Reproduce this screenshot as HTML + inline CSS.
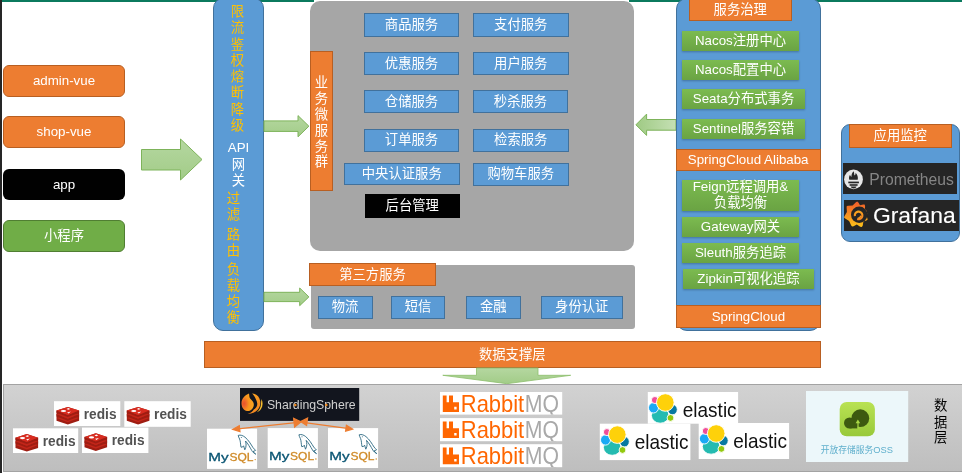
<!DOCTYPE html>
<html lang="zh-CN">
<head>
<meta charset="utf-8">
<title>架构图</title>
<style>
html,body{margin:0;padding:0;}
body{width:962px;height:473px;position:relative;overflow:hidden;background:#fff;
 font-family:"Liberation Sans","Noto Sans CJK SC",sans-serif;font-size:13.33px;line-height:16px;color:#fff;}
.a{position:absolute;box-sizing:border-box;}
.c{display:flex;align-items:center;justify-content:center;text-align:center;white-space:nowrap;}
.or{background:#ed7d31;border:1px solid #b85f22;}
.bl{background:#5b9bd5;border:1px solid #41719c;}
.gr{background:linear-gradient(#7cbb50,#6aa343);box-shadow:0 1px 2px rgba(0,0,0,.25);}
</style>
</head>
<body>
<div id="stage" style="position:absolute;left:0;top:0;width:962px;height:473px;overflow:hidden;will-change:transform;opacity:0.999;">
<!-- frame edges -->
<div class="a" style="left:0;top:0;width:2px;height:473px;background:#262626;"></div>
<div class="a" style="left:2px;top:0;width:960px;height:2px;background:#0b7a5e;"></div>
<div class="a" style="left:314px;top:0;width:315px;height:2px;background:#fff;"></div>

<!-- clients -->
<div class="a c or" style="left:3px;top:65px;width:122px;height:32px;border-radius:6px;">admin-vue</div>
<div class="a c or" style="left:3px;top:116px;width:122px;height:32px;border-radius:6px;">shop-vue</div>
<div class="a c" style="left:3px;top:169px;width:122px;height:31px;border-radius:6px;background:#000;">app</div>
<div class="a c" style="left:3px;top:220px;width:122px;height:32px;border-radius:6px;background:#70ad47;border:1px solid #507e32;">小程序</div>

<!-- big arrow -->
<svg class="a" style="left:138px;top:135px;" width="70" height="50" viewBox="138 135 70 50">
 <defs><linearGradient id="ga" x1="0" y1="0" x2="0" y2="1"><stop offset="0" stop-color="#b5d7a0"/><stop offset="1" stop-color="#a2cc88"/></linearGradient></defs>
 <path d="M141.5 149.5H180.5V139L202 159.5L180.5 180V170H141.5Z" fill="url(#ga)" stroke="#7db35a" stroke-width="1"/>
</svg>

<!-- API gateway -->
<div class="a bl" style="left:213px;top:-2px;width:51px;height:333px;border-radius:10px;"></div>

<!-- gray service cluster -->
<div class="a" style="left:310px;top:1px;width:324px;height:250px;border-radius:10px;background:#a6a6a6;"></div>
<div class="a" style="left:311px;top:265px;width:324px;height:64px;border-radius:3px;background:#a6a6a6;"></div>

<!-- gateway labels -->
<div class="a c" style="left:227.3px;top:4.10px;width:20px;height:16px;color:#ffc000;">限</div>
<div class="a c" style="left:227.3px;top:20.35px;width:20px;height:16px;color:#ffc000;">流</div>
<div class="a c" style="left:227.3px;top:36.60px;width:20px;height:16px;color:#ffc000;">鉴</div>
<div class="a c" style="left:227.3px;top:52.85px;width:20px;height:16px;color:#ffc000;">权</div>
<div class="a c" style="left:227.3px;top:69.10px;width:20px;height:16px;color:#ffc000;">熔</div>
<div class="a c" style="left:227.3px;top:85.35px;width:20px;height:16px;color:#ffc000;">断</div>
<div class="a c" style="left:227.3px;top:101.60px;width:20px;height:16px;color:#ffc000;">降</div>
<div class="a c" style="left:227.3px;top:117.85px;width:20px;height:16px;color:#ffc000;">级</div>
<div class="a c" style="left:223.5px;top:140.0px;width:30px;height:16px;color:#fff;">API</div>
<div class="a c" style="left:223.5px;top:156.7px;width:30px;height:16px;color:#fff;">网</div>
<div class="a c" style="left:223.5px;top:172.7px;width:30px;height:16px;color:#fff;">关</div>
<div class="a c" style="left:223.5px;top:190.8px;width:20px;height:16px;color:#ffc000;">过</div>
<div class="a c" style="left:223.5px;top:206.8px;width:20px;height:16px;color:#ffc000;">滤</div>
<div class="a c" style="left:223.5px;top:226.8px;width:20px;height:16px;color:#ffc000;">路</div>
<div class="a c" style="left:223.5px;top:242.8px;width:20px;height:16px;color:#ffc000;">由</div>
<div class="a c" style="left:223.5px;top:261.8px;width:20px;height:16px;color:#ffc000;">负</div>
<div class="a c" style="left:223.5px;top:277.8px;width:20px;height:16px;color:#ffc000;">载</div>
<div class="a c" style="left:223.5px;top:293.8px;width:20px;height:16px;color:#ffc000;">均</div>
<div class="a c" style="left:223.5px;top:309.8px;width:20px;height:16px;color:#ffc000;">衡</div>
<div class="a or" style="left:310px;top:51px;width:23px;height:140px;"></div>
<div class="a c" style="left:311.5px;top:74.7px;width:20px;height:16px;color:#fff;">业</div>
<div class="a c" style="left:311.5px;top:90.7px;width:20px;height:16px;color:#fff;">务</div>
<div class="a c" style="left:311.5px;top:106.7px;width:20px;height:16px;color:#fff;">微</div>
<div class="a c" style="left:311.5px;top:122.7px;width:20px;height:16px;color:#fff;">服</div>
<div class="a c" style="left:311.5px;top:138.7px;width:20px;height:16px;color:#fff;">务</div>
<div class="a c" style="left:311.5px;top:154.2px;width:20px;height:16px;color:#fff;">群</div>
<div class="a c bl" style="left:364px;top:13px;width:95px;height:23.5px;">商品服务</div>
<div class="a c bl" style="left:473px;top:13px;width:95.5px;height:23.5px;">支付服务</div>
<div class="a c bl" style="left:364px;top:52px;width:95px;height:23px;">优惠服务</div>
<div class="a c bl" style="left:473px;top:52px;width:95.5px;height:23px;">用户服务</div>
<div class="a c bl" style="left:364px;top:90px;width:95px;height:23px;">仓储服务</div>
<div class="a c bl" style="left:473px;top:90px;width:95px;height:23px;">秒杀服务</div>
<div class="a c bl" style="left:364px;top:128.5px;width:95px;height:23.5px;">订单服务</div>
<div class="a c bl" style="left:473px;top:128.5px;width:95.5px;height:23.5px;">检索服务</div>
<div class="a c bl" style="left:344px;top:162.5px;width:115.5px;height:22.5px;">中央认证服务</div>
<div class="a c bl" style="left:473px;top:162.5px;width:95.5px;height:23.5px;">购物车服务</div>
<div class="a c " style="left:364.5px;top:194px;width:95.5px;height:24px;background:#000;">后台管理</div>
<div class="a c or" style="left:309px;top:263px;width:127px;height:23px;">第三方服务</div>
<div class="a c bl" style="left:317.5px;top:295.5px;width:55px;height:23.5px;">物流</div>
<div class="a c bl" style="left:391px;top:295.5px;width:54px;height:23.5px;">短信</div>
<div class="a c bl" style="left:466px;top:295.5px;width:54.5px;height:23.5px;">金融</div>
<div class="a c bl" style="left:541px;top:295.5px;width:81.5px;height:23.5px;">身份认证</div>
<div class="a c or" style="left:204px;top:340.5px;width:616.5px;height:27.5px;padding-top:2px;">数据支撑层</div>
<!-- arrows -->
<svg class="a" style="left:0;top:0;pointer-events:none;" width="962" height="473" viewBox="0 0 962 473">
 <defs>
  <linearGradient id="gb" x1="0" y1="0" x2="0" y2="1"><stop offset="0" stop-color="#b5d7a0"/><stop offset="1" stop-color="#a2cc88"/></linearGradient>
  <linearGradient id="gc" x1="0" y1="0" x2="1" y2="0"><stop offset="0" stop-color="#9fca84"/><stop offset="1" stop-color="#c5e0b4"/></linearGradient>
 </defs>
 <path d="M264 120.9H298V115.6L308.9 126.2L298 136.8V131.4H264Z" fill="url(#gb)" stroke="#7db35a" stroke-width="1"/>
 <path d="M264 292.3H299.7V288L308.9 296.9L299.7 305.7V301.6H264Z" fill="url(#gb)" stroke="#7db35a" stroke-width="1"/>
 <path d="M676 119.5H646.6V114.1L635.9 124.8L646.6 135.4V130.2H676Z" fill="url(#gc)" stroke="#7db35a" stroke-width="1"/>
 <path d="M476.5 368H538V375.3H570.7L506.8 383.7L442.8 375.3H476.5Z" fill="url(#gb)" stroke="#8dbf6c" stroke-width="0.8"/>
</svg>
<!-- governance panel -->
<div class="a bl" style="left:676px;top:-2px;width:144.5px;height:333px;border-radius:11px;"></div>
<div class="a c or" style="left:689px;top:-2px;width:102.5px;height:23px;">服务治理</div>
<div class="a c gr" style="left:682px;top:30.8px;width:117px;height:20.5px;">Nacos注册中心</div>
<div class="a c gr" style="left:682px;top:60px;width:117px;height:20px;">Nacos配置中心</div>
<div class="a c gr" style="left:682px;top:89.3px;width:123px;height:20px;">Seata分布式事务</div>
<div class="a c gr" style="left:682px;top:118.8px;width:123px;height:20px;">Sentinel服务容错</div>
<div class="a c gr" style="left:682px;top:179.5px;width:117px;height:31.3px;line-height:16.4px;">Feign远程调用&amp;<br>负载均衡</div>
<div class="a c gr" style="left:682px;top:217px;width:117px;height:20px;">Gateway网关</div>
<div class="a c gr" style="left:682px;top:243.3px;width:117px;height:19.8px;">Sleuth服务追踪</div>
<div class="a c gr" style="left:683px;top:269.3px;width:130.8px;height:19.5px;">Zipkin可视化追踪</div>
<div class="a c or" style="left:675.5px;top:148.8px;width:145.3px;height:22px;">SpringCloud Alibaba</div>
<div class="a c or" style="left:675.5px;top:305px;width:145.8px;height:23px;">SpringCloud</div>
<!-- monitoring panel -->
<div class="a bl" style="left:841px;top:124px;width:119px;height:117.5px;border-radius:9px;"></div>
<div class="a c or" style="left:849px;top:124px;width:102.5px;height:23.5px;">应用监控</div>
<div class="a" style="left:843px;top:163px;width:114px;height:30.5px;background:#252525;"></div>
<div class="a" style="left:844px;top:200.3px;width:115px;height:30.3px;background:#252525;"></div>
<!-- data layer -->
<div class="a" style="left:3px;top:384px;width:962px;height:88px;background:linear-gradient(#d2d2d2,#bebebe);border:1px solid #a3a3a3;"></div>
<!-- data layer logos -->
<svg class="a" style="left:0;top:380px;" width="962" height="93" viewBox="0 380 962 93">
<defs><clipPath id="rc1"><rect x="440" y="392" width="122.2" height="22.6"/></clipPath><clipPath id="rc2"><rect x="440" y="418.1" width="122.2" height="23.1"/></clipPath><clipPath id="rc3"><rect x="440" y="444.2" width="122.2" height="23"/></clipPath><linearGradient id="oss" x1="0" y1="0" x2="0" y2="1"><stop offset="0" stop-color="#b9e253"/><stop offset="1" stop-color="#98c93a"/></linearGradient><radialGradient id="ssg" cx="0.2" cy="0.58" r="0.75"><stop offset="0" stop-color="#e8502d"/><stop offset="0.25" stop-color="#ee6a2a"/><stop offset="0.55" stop-color="#f7941e"/><stop offset="1" stop-color="#f9a322"/></radialGradient><linearGradient id="ssh" x1="0" y1="0" x2="0.6" y2="1"><stop offset="0" stop-color="#f9a825"/><stop offset="1" stop-color="#f6871f"/></linearGradient></defs>
<g>
 <rect x="54" y="401.2" width="66.3" height="24.8" fill="#fff"/>
 <g transform="translate(56.3,406.9)">
  <path d="M0.2 3.7L11.5 0L22.8 3.7V13.9L11.5 17.6L0.2 13.9Z" fill="#9f1d12"/>
  <path d="M0.2 11.1L11.5 15.4L22.8 11.1L11.5 7.4Z" fill="#c3261a"/>
  <path d="M0.2 7.2L11.5 11.8L22.8 7.2V9.6L11.5 13.8L0.2 9.6Z" fill="#9f1d12"/>
  <path d="M0.2 7.4L11.5 11.7L22.8 7.4L11.5 3.7Z" fill="#c3261a"/>
  <path d="M0.2 3.5L11.5 8.1L22.8 3.5V5.9L11.5 10.1L0.2 5.9Z" fill="#9f1d12"/>
  <path d="M0.2 3.7L11.5 0L22.8 3.7L11.5 8Z" fill="#d82c20"/>
  <ellipse cx="7.2" cy="4.1" rx="2.6" ry="1.1" fill="#fff"/>
  <path d="M10.2 2.2L12 1.2L13.9 2.1L12.1 2.9Z" fill="#fff"/>
  <path d="M10.8 5.5L14.6 4.6L12.3 6.6Z" fill="#fff"/>
 </g>
 <text x="83.8" y="418.9" font-family="Liberation Sans, sans-serif" font-weight="bold" font-size="14" fill="#525252" textLength="32.7" lengthAdjust="spacingAndGlyphs">redis</text>
</g>
<g>
 <rect x="124.3" y="401.2" width="66.4" height="25.6" fill="#fff"/>
 <g transform="translate(126.6,406.9)">
  <path d="M0.2 3.7L11.5 0L22.8 3.7V13.9L11.5 17.6L0.2 13.9Z" fill="#9f1d12"/>
  <path d="M0.2 11.1L11.5 15.4L22.8 11.1L11.5 7.4Z" fill="#c3261a"/>
  <path d="M0.2 7.2L11.5 11.8L22.8 7.2V9.6L11.5 13.8L0.2 9.6Z" fill="#9f1d12"/>
  <path d="M0.2 7.4L11.5 11.7L22.8 7.4L11.5 3.7Z" fill="#c3261a"/>
  <path d="M0.2 3.5L11.5 8.1L22.8 3.5V5.9L11.5 10.1L0.2 5.9Z" fill="#9f1d12"/>
  <path d="M0.2 3.7L11.5 0L22.8 3.7L11.5 8Z" fill="#d82c20"/>
  <ellipse cx="7.2" cy="4.1" rx="2.6" ry="1.1" fill="#fff"/>
  <path d="M10.2 2.2L12 1.2L13.9 2.1L12.1 2.9Z" fill="#fff"/>
  <path d="M10.8 5.5L14.6 4.6L12.3 6.6Z" fill="#fff"/>
 </g>
 <text x="154.1" y="418.9" font-family="Liberation Sans, sans-serif" font-weight="bold" font-size="14" fill="#525252" textLength="32.7" lengthAdjust="spacingAndGlyphs">redis</text>
</g>
<g>
 <rect x="13" y="428.3" width="65.2" height="24.7" fill="#fff"/>
 <g transform="translate(15.3,434.0)">
  <path d="M0.2 3.7L11.5 0L22.8 3.7V13.9L11.5 17.6L0.2 13.9Z" fill="#9f1d12"/>
  <path d="M0.2 11.1L11.5 15.4L22.8 11.1L11.5 7.4Z" fill="#c3261a"/>
  <path d="M0.2 7.2L11.5 11.8L22.8 7.2V9.6L11.5 13.8L0.2 9.6Z" fill="#9f1d12"/>
  <path d="M0.2 7.4L11.5 11.7L22.8 7.4L11.5 3.7Z" fill="#c3261a"/>
  <path d="M0.2 3.5L11.5 8.1L22.8 3.5V5.9L11.5 10.1L0.2 5.9Z" fill="#9f1d12"/>
  <path d="M0.2 3.7L11.5 0L22.8 3.7L11.5 8Z" fill="#d82c20"/>
  <ellipse cx="7.2" cy="4.1" rx="2.6" ry="1.1" fill="#fff"/>
  <path d="M10.2 2.2L12 1.2L13.9 2.1L12.1 2.9Z" fill="#fff"/>
  <path d="M10.8 5.5L14.6 4.6L12.3 6.6Z" fill="#fff"/>
 </g>
 <text x="42.8" y="446.0" font-family="Liberation Sans, sans-serif" font-weight="bold" font-size="14" fill="#525252" textLength="32.7" lengthAdjust="spacingAndGlyphs">redis</text>
</g>
<g>
 <rect x="82" y="427.6" width="66.4" height="25.4" fill="#fff"/>
 <g transform="translate(84.3,433.3)">
  <path d="M0.2 3.7L11.5 0L22.8 3.7V13.9L11.5 17.6L0.2 13.9Z" fill="#9f1d12"/>
  <path d="M0.2 11.1L11.5 15.4L22.8 11.1L11.5 7.4Z" fill="#c3261a"/>
  <path d="M0.2 7.2L11.5 11.8L22.8 7.2V9.6L11.5 13.8L0.2 9.6Z" fill="#9f1d12"/>
  <path d="M0.2 7.4L11.5 11.7L22.8 7.4L11.5 3.7Z" fill="#c3261a"/>
  <path d="M0.2 3.5L11.5 8.1L22.8 3.5V5.9L11.5 10.1L0.2 5.9Z" fill="#9f1d12"/>
  <path d="M0.2 3.7L11.5 0L22.8 3.7L11.5 8Z" fill="#d82c20"/>
  <ellipse cx="7.2" cy="4.1" rx="2.6" ry="1.1" fill="#fff"/>
  <path d="M10.2 2.2L12 1.2L13.9 2.1L12.1 2.9Z" fill="#fff"/>
  <path d="M10.8 5.5L14.6 4.6L12.3 6.6Z" fill="#fff"/>
 </g>
 <text x="111.8" y="445.3" font-family="Liberation Sans, sans-serif" font-weight="bold" font-size="14" fill="#525252" textLength="32.7" lengthAdjust="spacingAndGlyphs">redis</text>
</g>
<g>
 <rect x="240" y="388" width="119.2" height="32.9" fill="#12151e"/>
 <g>
  <path d="M249 393.4C245 395 241.5 398.5 241.5 403.2C241.5 407.5 244 410.5 247 411C251 411.5 254 408 253.8 404C253.6 401 250.5 399.5 249.7 397.7C249.2 396.3 249.3 394.6 249 393.4Z" fill="url(#ssg)"/>
  <path d="M251.7 393.4C256 393.5 259.5 396.5 260.2 401C261 406 258.5 410.5 254 412.5C252 413.4 249.5 413.9 247.4 413.8C250.5 413.2 252.6 411.6 253.8 409.5C256.5 408 257.6 405.5 257.2 403.2C256.8 400.5 255.5 398.5 254.8 397C254 395.5 253 394 251.7 393.4Z" fill="url(#ssh)"/>
  <path d="M261.5 398.9C263 402 263 406 261 409C259.8 410.8 258.4 411.8 256.8 412.2C259 410.5 260.6 408 260.9 404.8C261.1 402.8 261.2 400.7 261.5 398.9Z" fill="#fbc02d"/>
 </g>
 <text x="266.9" y="408.9" font-family="Liberation Sans, sans-serif" font-size="12.4" fill="#d0d0d0" textLength="88.8" lengthAdjust="spacingAndGlyphs">ShardingSphere</text>
 <circle cx="295.3" cy="405" r="1.3" fill="#f08a1f"/><circle cx="326.3" cy="405" r="1.3" fill="#f08a1f"/>
</g>
<g>
 <rect x="207" y="428.7" width="50.1" height="40.2" fill="#fff"/>
 <g transform="translate(0.0,0.0)">
  <path d="M238.2 435.4C240.5 434.6 243 435.6 245 437.2C248.5 440 251 444.5 253 447.6C253.8 448.8 255 449.6 255.6 450.4L253 451.6L255.8 454.2C254 453.4 252.6 452 251.8 450.6C250 447.6 248 443.5 245.5 441C246.2 443.5 246.6 446.5 244.8 449.8L243.6 445.8L242.6 447L241 447.2C240.4 444 240.6 441.5 239.6 439C239 437.6 238.3 436.6 238.2 435.4Z" fill="none" stroke="#2a6880" stroke-width="0.9" stroke-linejoin="round"/>
  <circle cx="241.3" cy="437.4" r="0.5" fill="#2a6880"/>
  <text x="208.3" y="460.5" font-family="Liberation Sans, sans-serif" font-size="11.2" fill="#0a5573" stroke="#0a5573" stroke-width="0.3" textLength="20.4" lengthAdjust="spacingAndGlyphs">My</text>
  <text x="229.4" y="460.5" font-family="Liberation Sans, sans-serif" font-size="11.2" fill="#cf8a27" stroke="#cf8a27" stroke-width="0.3" textLength="24" lengthAdjust="spacingAndGlyphs">SQL</text>
  <circle cx="255.2" cy="459.6" r="0.7" fill="#cf8a27"/>
 </g>
</g>
<g>
 <rect x="267.7" y="428.1" width="50.2" height="39.9" fill="#fff"/>
 <g transform="translate(60.7,-0.6)">
  <path d="M238.2 435.4C240.5 434.6 243 435.6 245 437.2C248.5 440 251 444.5 253 447.6C253.8 448.8 255 449.6 255.6 450.4L253 451.6L255.8 454.2C254 453.4 252.6 452 251.8 450.6C250 447.6 248 443.5 245.5 441C246.2 443.5 246.6 446.5 244.8 449.8L243.6 445.8L242.6 447L241 447.2C240.4 444 240.6 441.5 239.6 439C239 437.6 238.3 436.6 238.2 435.4Z" fill="none" stroke="#2a6880" stroke-width="0.9" stroke-linejoin="round"/>
  <circle cx="241.3" cy="437.4" r="0.5" fill="#2a6880"/>
  <text x="208.3" y="460.5" font-family="Liberation Sans, sans-serif" font-size="11.2" fill="#0a5573" stroke="#0a5573" stroke-width="0.3" textLength="20.4" lengthAdjust="spacingAndGlyphs">My</text>
  <text x="229.4" y="460.5" font-family="Liberation Sans, sans-serif" font-size="11.2" fill="#cf8a27" stroke="#cf8a27" stroke-width="0.3" textLength="24" lengthAdjust="spacingAndGlyphs">SQL</text>
  <circle cx="255.2" cy="459.6" r="0.7" fill="#cf8a27"/>
 </g>
</g>
<g>
 <rect x="328" y="428.1" width="50.1" height="39.9" fill="#fff"/>
 <g transform="translate(121.0,-0.6)">
  <path d="M238.2 435.4C240.5 434.6 243 435.6 245 437.2C248.5 440 251 444.5 253 447.6C253.8 448.8 255 449.6 255.6 450.4L253 451.6L255.8 454.2C254 453.4 252.6 452 251.8 450.6C250 447.6 248 443.5 245.5 441C246.2 443.5 246.6 446.5 244.8 449.8L243.6 445.8L242.6 447L241 447.2C240.4 444 240.6 441.5 239.6 439C239 437.6 238.3 436.6 238.2 435.4Z" fill="none" stroke="#2a6880" stroke-width="0.9" stroke-linejoin="round"/>
  <circle cx="241.3" cy="437.4" r="0.5" fill="#2a6880"/>
  <text x="208.3" y="460.5" font-family="Liberation Sans, sans-serif" font-size="11.2" fill="#0a5573" stroke="#0a5573" stroke-width="0.3" textLength="20.4" lengthAdjust="spacingAndGlyphs">My</text>
  <text x="229.4" y="460.5" font-family="Liberation Sans, sans-serif" font-size="11.2" fill="#cf8a27" stroke="#cf8a27" stroke-width="0.3" textLength="24" lengthAdjust="spacingAndGlyphs">SQL</text>
  <circle cx="255.2" cy="459.6" r="0.7" fill="#cf8a27"/>
 </g>
</g>
<g stroke="#ed7d31" stroke-width="1.2" fill="#ed7d31">
 <line x1="298" y1="422.3" x2="236" y2="429.1"/><line x1="303" y1="422.3" x2="349" y2="428.6"/>
 <path d="M232.6 429.4L239.3 425.6L240 431.6Z"/><path d="M352.6 429.1L345.6 431.2L346.4 425.2Z"/>
 <path d="M293.6 418.2L301 421.8L294.6 427Z"/><path d="M307.6 418L300.6 421.6L306.6 425.4Z"/>
</g>
<g>
 <rect x="440" y="392" width="122.2" height="22.6" fill="#fff"/>
 <path transform="translate(442.8,395.4)" fill="#f60" fill-rule="evenodd" d="M0 0H3.8V6.8H6.2V0H10.2V6.8H16.2V16.6H0ZM11.4 11.4V14H13.8V11.4Z"/>
 <text x="460.8" y="412" font-family="Liberation Sans, sans-serif" font-size="23.8" fill="#f60" textLength="63.4" lengthAdjust="spacingAndGlyphs">Rabbit</text>
 <text clip-path="url(#rc1)" x="524.8" y="412" font-family="Liberation Sans, sans-serif" font-size="23.8" fill="#a9a9a9" textLength="34.2" lengthAdjust="spacingAndGlyphs">MQ</text>
</g>
<g>
 <rect x="440" y="418.1" width="122.2" height="23.1" fill="#fff"/>
 <path transform="translate(442.8,421.5)" fill="#f60" fill-rule="evenodd" d="M0 0H3.8V6.8H6.2V0H10.2V6.8H16.2V16.6H0ZM11.4 11.4V14H13.8V11.4Z"/>
 <text x="460.8" y="438.1" font-family="Liberation Sans, sans-serif" font-size="23.8" fill="#f60" textLength="63.4" lengthAdjust="spacingAndGlyphs">Rabbit</text>
 <text clip-path="url(#rc2)" x="524.8" y="438.1" font-family="Liberation Sans, sans-serif" font-size="23.8" fill="#a9a9a9" textLength="34.2" lengthAdjust="spacingAndGlyphs">MQ</text>
</g>
<g>
 <rect x="440" y="444.2" width="122.2" height="23" fill="#fff"/>
 <path transform="translate(442.8,447.59999999999997)" fill="#f60" fill-rule="evenodd" d="M0 0H3.8V6.8H6.2V0H10.2V6.8H16.2V16.6H0ZM11.4 11.4V14H13.8V11.4Z"/>
 <text x="460.8" y="464.2" font-family="Liberation Sans, sans-serif" font-size="23.8" fill="#f60" textLength="63.4" lengthAdjust="spacingAndGlyphs">Rabbit</text>
 <text clip-path="url(#rc3)" x="524.8" y="464.2" font-family="Liberation Sans, sans-serif" font-size="23.8" fill="#a9a9a9" textLength="34.2" lengthAdjust="spacingAndGlyphs">MQ</text>
</g>
<g>
 <rect x="647.8" y="392" width="90.3" height="31.7" fill="#fff"/>
 <g transform="translate(649,394.6)">
  <ellipse cx="11.2" cy="20.9" rx="8.8" ry="7.7" fill="#24bbb1" stroke="#fff" stroke-width="0.9"/>
  <ellipse cx="4.5" cy="13.2" rx="5" ry="5.2" fill="#1ba9f5" stroke="#fff" stroke-width="0.9"/>
  <ellipse cx="23.5" cy="15" rx="4.8" ry="5.2" fill="#0779a1" stroke="#fff" stroke-width="0.9"/>
  <circle cx="5.9" cy="5.4" r="3.5" fill="#f04e98" stroke="#fff" stroke-width="0.9"/>
  <circle cx="21.5" cy="23.3" r="3.4" fill="#93c90e" stroke="#fff" stroke-width="0.9"/>
  <circle cx="16.3" cy="7.9" r="8.8" fill="#fed10a" stroke="#fff" stroke-width="0.9"/>
 </g>
 <text x="682.8" y="416.5" font-family="Liberation Sans, sans-serif" font-size="21" fill="#111" textLength="53.8" lengthAdjust="spacingAndGlyphs">elastic</text>
</g>
<g>
 <rect x="599.8" y="423.7" width="90.6" height="36.4" fill="#fff"/>
 <g transform="translate(601,426.7)">
  <ellipse cx="11.2" cy="20.9" rx="8.8" ry="7.7" fill="#24bbb1" stroke="#fff" stroke-width="0.9"/>
  <ellipse cx="4.5" cy="13.2" rx="5" ry="5.2" fill="#1ba9f5" stroke="#fff" stroke-width="0.9"/>
  <ellipse cx="23.5" cy="15" rx="4.8" ry="5.2" fill="#0779a1" stroke="#fff" stroke-width="0.9"/>
  <circle cx="5.9" cy="5.4" r="3.5" fill="#f04e98" stroke="#fff" stroke-width="0.9"/>
  <circle cx="21.5" cy="23.3" r="3.4" fill="#93c90e" stroke="#fff" stroke-width="0.9"/>
  <circle cx="16.3" cy="7.9" r="8.8" fill="#fed10a" stroke="#fff" stroke-width="0.9"/>
 </g>
 <text x="634.7" y="448.8" font-family="Liberation Sans, sans-serif" font-size="21" fill="#111" textLength="53.8" lengthAdjust="spacingAndGlyphs">elastic</text>
</g>
<g>
 <rect x="698.7" y="423" width="90.4" height="36" fill="#fff"/>
 <g transform="translate(699.9,425.6)">
  <ellipse cx="11.2" cy="20.9" rx="8.8" ry="7.7" fill="#24bbb1" stroke="#fff" stroke-width="0.9"/>
  <ellipse cx="4.5" cy="13.2" rx="5" ry="5.2" fill="#1ba9f5" stroke="#fff" stroke-width="0.9"/>
  <ellipse cx="23.5" cy="15" rx="4.8" ry="5.2" fill="#0779a1" stroke="#fff" stroke-width="0.9"/>
  <circle cx="5.9" cy="5.4" r="3.5" fill="#f04e98" stroke="#fff" stroke-width="0.9"/>
  <circle cx="21.5" cy="23.3" r="3.4" fill="#93c90e" stroke="#fff" stroke-width="0.9"/>
  <circle cx="16.3" cy="7.9" r="8.8" fill="#fed10a" stroke="#fff" stroke-width="0.9"/>
 </g>
 <text x="733.2" y="448.2" font-family="Liberation Sans, sans-serif" font-size="21" fill="#111" textLength="53.8" lengthAdjust="spacingAndGlyphs">elastic</text>
</g>
<g>
 <rect x="806" y="391" width="102.2" height="71" fill="#ecf7fa"/>
 <rect x="839.7" y="402" width="35.2" height="34.2" rx="7" fill="url(#oss)"/>
 <circle cx="860.3" cy="418.2" r="8.9" fill="#3d5a10"/><circle cx="849.6" cy="423" r="5.6" fill="#3d5a10"/>
 <rect x="849.6" y="422" width="8" height="6.4" fill="#3d5a10"/>
 <path d="M857.4 428.8V423.2H855.6L857.9 419.4L860.2 423.2H858.6V428.8Z" fill="#a9d846"/>
 <text x="820.7" y="453" font-family="Liberation Sans, Noto Sans CJK SC, sans-serif" font-size="9" fill="#5fafcc" textLength="72.3" lengthAdjust="spacingAndGlyphs">开放存储服务<tspan font-size="9.6">OSS</tspan></text>
</g>
</svg>
<div class="a c" style="left:930.6px;top:398px;width:20px;height:16px;color:#000;">数</div>
<div class="a c" style="left:930.6px;top:414.5px;width:20px;height:16px;color:#000;">据</div>
<div class="a c" style="left:930.6px;top:430px;width:20px;height:16px;color:#000;">层</div>
<!-- monitoring logos -->
<svg class="a" style="left:840px;top:160px;" width="122" height="75" viewBox="840 160 122 75">
 <defs><linearGradient id="gf" gradientUnits="userSpaceOnUse" x1="0" y1="-13" x2="0" y2="13"><stop offset="0" stop-color="#f15b2a"/><stop offset="1" stop-color="#fcc419"/></linearGradient></defs>
 <ellipse cx="853.5" cy="179.4" rx="9.4" ry="9.8" fill="#e7e7e7"/>
 <path transform="translate(0,0.6)" d="M853.5 170.6C854.7 172.4 853.7 173.8 854.7 174.8C855.5 174.2 855.7 173.2 855.5 172.2C857.5 174.2 858.3 176.8 857.7 179.2H849.3C848.7 177.2 849.1 175.4 850.1 174.2C850.3 175.2 850.7 175.8 851.5 176.2C851.3 174.2 852.1 172 853.5 170.6Z" fill="#262626"/>
 <rect x="848.3" y="181.6" width="10.6" height="1.7" fill="#262626"/><rect x="849.6" y="184.2" width="8" height="1.6" fill="#262626"/>
 <path d="M850.7 186.5H856.5C856.2 187.7 855 188.4 853.6 188.4C852.2 188.4 851 187.7 850.7 186.5Z" fill="#262626"/>
 <text x="869.3" y="184.6" font-family="Liberation Sans, sans-serif" font-size="15.8" fill="#858585" textLength="84.6" lengthAdjust="spacingAndGlyphs">Prometheus</text>
 <g transform="translate(856.5,214.5)">
  <path d="M-0.6 -12.3L0.7 -13.1L1.9 -12.1L3.5 -9.2L6.6 -10.1L8.1 -10.0L8.6 -8.6L8.4 -5.2L10.8 -3.5L11.9 -2.5L11.3 -1.2L9.8 1.1L10.9 3.7L11.1 5.2L9.9 5.9L6.9 7.1L6.2 11.2L5.3 12.5L3.7 12.2L0.3 9.9L-2.9 11.7L-4.4 12.1L-5.3 10.9L-7.4 6.6L-11.3 3.9L-12.5 2.9L-11.9 1.5L-9.6 -2.4L-9.9 -6.9L-9.7 -8.5L-8.3 -8.8L-3.9 -9.1Z" fill="url(#gf)"/>
  <circle cx="2.7" cy="0.3" r="8.2" fill="#262626"/>
  <path d="M9 -7.5L13.5 -4L11.5 2Z" fill="#262626"/>
  <circle cx="2.1" cy="0.9" r="3.8" fill="none" stroke="url(#gf)" stroke-width="2.1" stroke-dasharray="19.5 4.4" transform="rotate(170 2.1 0.9)"/>
  <path d="M1.2 3.4A2 2 0 0 0 3.9 1.1" fill="none" stroke="url(#gf)" stroke-width="1.3"/>
 </g>
 <text x="872.9" y="222.6" font-family="Liberation Sans, sans-serif" font-size="22.3" fill="#fff" stroke="#fff" stroke-width="0.1" textLength="82.8" lengthAdjust="spacingAndGlyphs">Grafana</text>
</svg>
</div>
</body>
</html>
